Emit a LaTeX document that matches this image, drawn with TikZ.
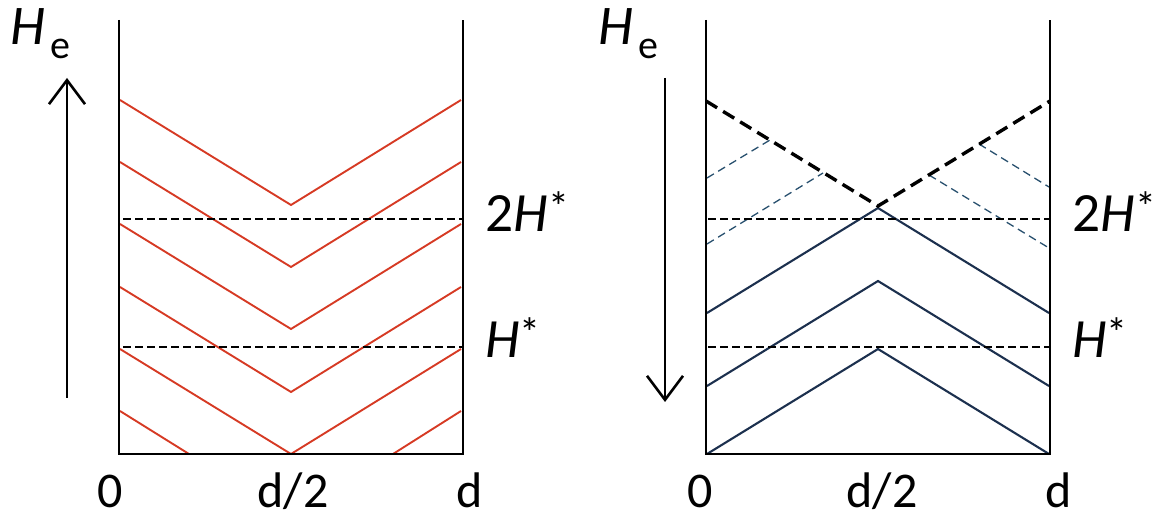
\documentclass[tikz,border=0pt]{standalone}
\usepackage{fontspec}
\setmainfont{Carlito}
\usetikzlibrary{arrows.meta}
\definecolor{redline}{RGB}{214,58,36}
\definecolor{navyline}{RGB}{28,48,78}
\definecolor{navydash}{RGB}{40,80,110}
\tikzset{
  wall/.style={line width=1.05pt, black},
  redv/.style={line width=0.95pt, redline},
  navys/.style={line width=1.05pt, navyline},
  navyd/.style={line width=0.65pt, navydash, dash pattern=on 4pt off 2.5pt},
  hdash/.style={line width=0.75pt, black, dash pattern=on 4pt off 2pt},
  thickdash/.style={line width=1.7pt, black, dash pattern=on 6.5pt off 3.5pt},
  fieldarrow/.style={line width=1.3pt, -{Straight Barb[length=12pt,width=18pt,line width=1.3pt]}},
  biglabel/.style={inner sep=0pt, anchor=base west, font=\fontsize{27.7}{32}\selectfont},
  axislabel/.style={inner sep=0pt, anchor=base, font=\fontsize{25}{30}\selectfont},
  helabel/.style={inner sep=0pt, anchor=base west, font=\fontsize{28}{32}\selectfont},
}
\newcommand{\myHe}{\textit{H}\kern2.5pt\raisebox{-7pt}{\fontsize{20}{24}\selectfont e}}
\newcommand{\myHstar}{\textit{H}\raisebox{5pt}{\fontsize{21}{24}\selectfont *}}
\begin{document}
\begin{tikzpicture}[x=0.5pt,y=-0.5pt]
\useasboundingbox (0,0) rectangle (1155,528);
% ---------- left panel ----------
\foreach \t in {100,162,224,287,349}{
  \draw[redv] (120,\t) -- (291,{\t+105}) -- (461,\t);
}
\draw[redv] (120,411) -- (189,454);
\draw[redv] (393,454) -- (461,411);
\draw[hdash] (123,219) -- (463,219);
\draw[hdash] (123,347) -- (463,347);
\draw[wall] (119,20) -- (119,454) -- (463,454) -- (463,20);
\draw[fieldarrow] (67,398) -- (67,78);
\node[helabel] (heL) at (10,45) {\myHe};
\node[biglabel] (twoHL) at (485,232) {2\myHstar};
\node[biglabel] (oneHL) at (485,358) {\myHstar};
\node[axislabel] (zeroL) at (110,507) {0};
\node[axislabel] (halfL) at (293,507) {d/2};
\node[axislabel] (dL) at (470,507) {d};
% ---------- right panel ----------
\foreach \t in {454,386,313}{
  \draw[navys] (707,\t) -- (878,{\t-105}) -- (1049,\t);
}
\draw[navyd] (707,244) -- (823,173);
\draw[navyd] (929,175) -- (1049,248);
\draw[navyd] (707,178) -- (770,140);
\draw[navyd] (979,144) -- (1049,187);
\draw[thickdash] (706,101) -- (878,206) -- (1050,101);
\draw[hdash] (708,219) -- (1050,219);
\draw[hdash] (708,347) -- (1050,347);
\draw[wall] (706,20) -- (706,454) -- (1050,454) -- (1050,20);
\draw[fieldarrow] (665,78) -- (665,402);
\node[helabel] (heR) at (598,45) {\myHe};
\node[biglabel] (twoHR) at (1072,232) {2\myHstar};
\node[biglabel] (oneHR) at (1072,358) {\myHstar};
\node[axislabel] (zeroR) at (700,507) {0};
\node[axislabel] (halfR) at (882,507) {d/2};
\node[axislabel] (dR) at (1059,507) {d};
\end{tikzpicture}
\end{document}
